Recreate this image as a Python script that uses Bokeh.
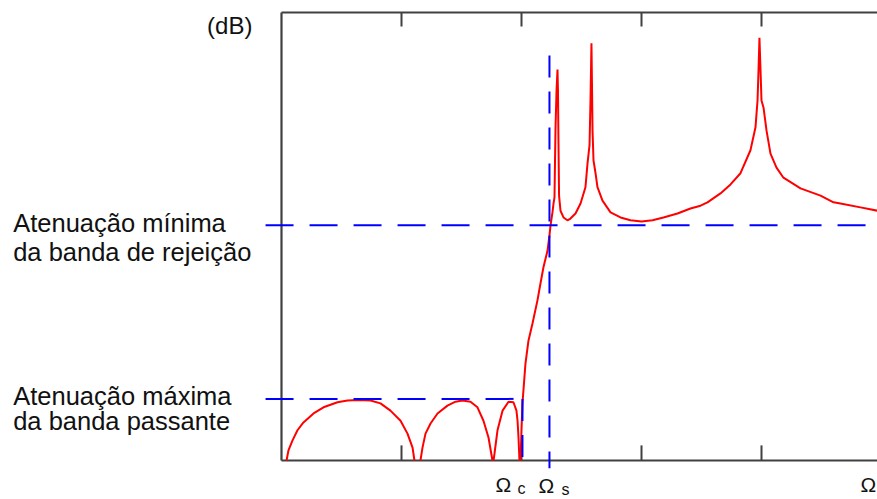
from bokeh.plotting import figure
from bokeh.models import Range1d
from bokeh.core.properties import value
from bokeh.embed import file_html
from bokeh.resources import INLINE

nan = float("nan")

# ---- data: normalized frequency (tick spacing = 1) and attenuation (dB) ----
# passband ripple arches (NaN separates the arches)
pass_w = [0.042, 0.058, 0.092, 0.133, 0.183, 0.267, 0.35, 0.467, 0.55, 0.642, 0.742, 0.825,
          0.908, 0.992, 1.05, 1.092, 1.108, nan,
          1.158, 1.175, 1.2, 1.242, 1.3, 1.383, 1.45, 1.508, 1.575, 1.633, 1.683, 1.725, 1.758, nan,
          1.767, 1.775, 1.8, 1.842, 1.892, 1.933, 1.958, 1.967, 1.975, 1.983]
pass_a = [0, 1.8, 3.6, 5.4, 6.8, 8.4, 9.5, 10.4, 10.7, 10.8, 10.7, 10.2,
          8.9, 7.1, 4.8, 2.3, 0, nan,
          0, 2.3, 4.8, 6.6, 8.4, 9.8, 10.5, 10.7, 10.5, 9.5, 7.1, 4.1, 0, nan,
          0, 1.25, 5.4, 8.9, 10.5, 10.4, 8.9, 7.1, 4.1, 0]

# transition band + stopband
stop_w = [1.992, 2.0, 2.008, 2.033, 2.058, 2.092, 2.133, 2.158, 2.183, 2.217, 2.233, 2.242,
          2.258, 2.267, 2.275, 2.283, 2.292, 2.3, 2.304, 2.308, 2.313, 2.325, 2.35, 2.383,
          2.408, 2.45, 2.492, 2.533, 2.55, 2.567, 2.575, 2.583, 2.588, 2.592, 2.6, 2.617,
          2.633, 2.675, 2.742, 2.825, 2.908, 3.0, 3.092, 3.183, 3.3, 3.408, 3.492, 3.55,
          3.658, 3.742, 3.825, 3.908, 3.95, 3.967, 3.975, 3.983, 3.992, 4.0, 4.017, 4.042,
          4.075, 4.125, 4.183, 4.325, 4.492, 4.6, 4.658, 4.825, 4.967]
stop_a = [0, 5.4, 10.2, 17.3, 21.4, 24.5, 28.6, 31.6, 34.5, 37.5, 40.2, 42.0,
          44.3, 45.9, 47.0, 58.9, 66.1, 69.8, 66.1, 57.1, 47.3, 44.6, 43.4, 42.9,
          43.2, 44.1, 45.9, 48.8, 53.0, 56.3, 64.3, 74.5, 66.1, 58.9, 53.6, 51.3,
          48.8, 46.4, 44.3, 43.4, 42.9, 42.7, 42.9, 43.4, 44.1, 45.0, 45.5, 46.1,
          47.7, 49.3, 51.3, 55.4, 59.5, 64.3, 69.6, 75.5, 69.6, 64.3, 63.0, 58.9,
          54.8, 52.3, 50.5, 48.6, 47.3, 46.1, 45.9, 45.2, 44.6]

omega_c = 2.008      # passband edge
omega_s = 2.233      # stopband edge
a_max = 11.0         # max passband attenuation (dB)
a_min = 42.0         # min stopband attenuation (dB)
a_top = 80.0         # top of the axis box
w_end = 4.97         # visible end of the frequency axis
freq_ticks = [1, 2, 3, 4]

note_lines = ["Atenuação mínima", "da banda de rejeição",
              "Atenuação máxima", "da banda passante"]
omega_labels = ["Ω", "Ω", "Ω"]
omega_subs = ["c", "s"]

# ---- layout ----
W, H = 877, 499
p = figure(width=W, height=H, output_backend="svg", toolbar_location=None,
           x_range=Range1d(-2.3417, 4.9667), y_range=Range1d(-6.964, 82.143),
           x_axis_location=None, y_axis_location=None, title=None,
           min_border=0, min_border_left=0, min_border_right=0,
           min_border_top=0, min_border_bottom=0)
p.outline_line_color = None
p.background_fill_color = "white"
p.border_fill_color = "white"
p.grid.visible = False

frame_col = "#404040"
FONT = value("Liberation Sans")

# axis box (left, top, bottom) and inward ticks
p.segment(x0=[0, 0, 0], y0=[0, a_top, 0], x1=[0, w_end, w_end], y1=[a_top, a_top, 0],
          line_color=frame_col, line_width=2.2)
p.segment(x0=freq_ticks, y0=[0] * 4, x1=freq_ticks, y1=[2.7] * 4,
          line_color=frame_col, line_width=2)
p.segment(x0=freq_ticks, y0=[a_top] * 4, x1=freq_ticks, y1=[a_top - 2.5] * 4,
          line_color=frame_col, line_width=2)

# attenuation curve
p.line(pass_w, pass_a, line_color="#ff0000", line_width=2)
p.line(stop_w, stop_a, line_color="#ff0000", line_width=2)

# specification dashed lines
dash_left = -0.133
p.segment(x0=[dash_left], y0=[a_max], x1=[omega_c], y1=[a_max],
          line_color="#0000ff", line_width=2, line_dash="28 16")
p.segment(x0=[dash_left], y0=[a_min], x1=[w_end], y1=[a_min],
          line_color="#0000ff", line_width=2, line_dash="28 16")
p.segment(x0=[omega_c], y0=[a_max], x1=[omega_c], y1=[-1.4],
          line_color="#0000ff", line_width=2, line_dash="22 14")
p.segment(x0=[omega_s], y0=[72.3], x1=[omega_s], y1=[-1.4],
          line_color="#0000ff", line_width=2, line_dash="22 14")

# texts
p.text(x=[-0.242], y=[77.7], text=["(dB)"], text_align="right", text_baseline="middle",
       text_font=FONT, text_font_size="24px", text_color="#111111")
p.text(x=[-2.236] * 4, y=[42.5, 37.2, 11.6, 7.1], text=note_lines,
       text_align="left", text_baseline="alphabetic",
       text_font=FONT, text_font_size="25.5px", text_color="#111111")
p.text(x=[1.783, 2.142, 4.825], y=[-4.3, -4.4, -4.3], text=omega_labels,
       text_align="left", text_baseline="alphabetic",
       text_font=FONT, text_font_size="21px", text_color="#111111")
p.text(x=[1.967, 2.333], y=[-5.0, -5.2], text=omega_subs,
       text_align="left", text_baseline="alphabetic",
       text_font=FONT, text_font_size="16px", text_color="#111111")

open("out.html", "w").write(file_html(p, INLINE))
